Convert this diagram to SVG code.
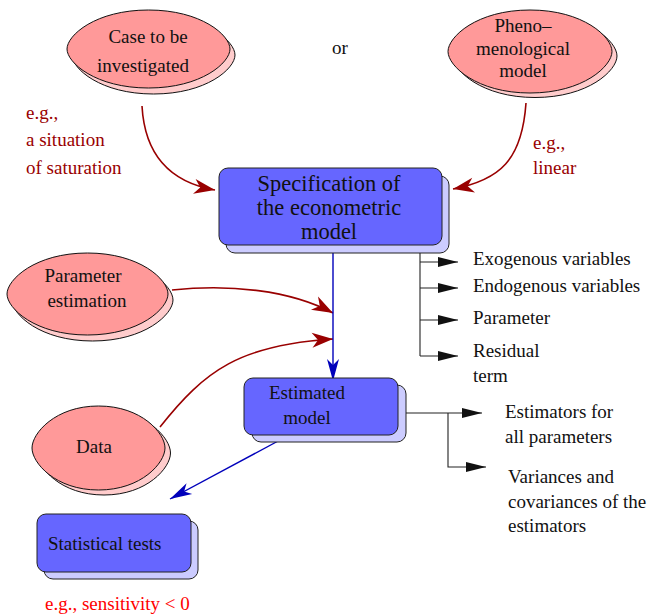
<svg xmlns="http://www.w3.org/2000/svg" xmlns:xlink="http://www.w3.org/1999/xlink" width="649" height="614" viewBox="0 0 649 614">
<style>
.t{font-size:19px;fill:#111}
.big{font-size:22.5px}
.mid{text-anchor:middle}
.dr{fill:#990000}
.rd{fill:#ff0000}
.ell{fill:#ff9999;stroke:#111;stroke-width:1}
.ells{fill:#ffcccc;stroke:#111;stroke-width:1}
.lemon{vector-effect:non-scaling-stroke}
.box{fill:#6666ff;stroke:#222;stroke-width:1}
.boxs{fill:#ccccff;stroke:#222;stroke-width:1}
.rl{fill:none;stroke:#990000;stroke-width:1.6}
.bl{fill:none;stroke:#0000bb;stroke-width:1.4}
.kl{fill:none;stroke:#222;stroke-width:1.1}
</style>
<defs>
<path id="lemon" class="lemon" d="M-1,0 C-1,-0.35 -0.65,-1 0,-1 C0.65,-1 1,-0.35 1,0 C1,0.35 0.65,1 0,1 C-0.65,1 -1,0.35 -1,0 Z"/>
<marker id="ar" viewBox="-22 -9 24 18" markerWidth="24" markerHeight="18" refX="0" refY="0" orient="auto" markerUnits="userSpaceOnUse"><path d="M0,0 L-21,-7.5 L-15,0 L-21,7.5 Z" fill="#990000"/></marker>
<marker id="ab" viewBox="-24 -8 26 16" markerWidth="26" markerHeight="16" refX="0" refY="0" orient="auto" markerUnits="userSpaceOnUse"><path d="M0,0 L-22,-6 L-16,0 L-22,6 Z" fill="#0000bb"/></marker>
<marker id="ak" viewBox="-22 -7 24 14" markerWidth="24" markerHeight="14" refX="0" refY="0" orient="auto" markerUnits="userSpaceOnUse"><path d="M0,0 L-20,-5 L-20,5 Z" fill="#111"/></marker>
</defs>
<rect width="649" height="614" fill="#fff"/>

<g id="connectors">
<path class="rl" d="M142,106 C145,160 175,183 215,190" marker-end="url(#ar)"/>
<path class="rl" d="M526,103 C522,160 500,180 453,189" marker-end="url(#ar)"/>
<path class="rl" d="M172,290 C230,284 290,290 333,313" marker-end="url(#ar)"/>
<path class="rl" d="M160,427 C205,370 240,345 333,339" marker-end="url(#ar)"/>
<path class="bl" d="M333,252 V381" marker-end="url(#ab)"/>
<path class="bl" d="M280,440 L170,499" marker-end="url(#ab)"/>
<path class="kl" d="M420,252 V356"/>
<path class="kl" d="M420,262 H458" marker-end="url(#ak)"/>
<path class="kl" d="M420,288 H458" marker-end="url(#ak)"/>
<path class="kl" d="M420,320 H458" marker-end="url(#ak)"/>
<path class="kl" d="M420,356 H458" marker-end="url(#ak)"/>
<path class="kl" d="M406,413 H482" marker-end="url(#ak)"/>
<path class="kl" d="M448,413 V467 H486" marker-end="url(#ak)"/>
</g>

<g font-family="Liberation Serif, Times New Roman, serif">
<g id="case">
<use href="#lemon" class="ells" transform="translate(153.5,55) scale(81.5,39)"/>
<use href="#lemon" class="ell" transform="translate(148.5,49) scale(81.5,39)"/>
<text class="t mid" x="148" y="43">Case to be</text>
<text class="t mid" x="143" y="72">investigated</text>
</g>

<g id="or"><text class="t mid" x="340" y="54">or</text></g>

<g id="pheno">
<use href="#lemon" class="ells" transform="translate(535,56) scale(82,41.5)"/>
<use href="#lemon" class="ell" transform="translate(530,51.5) scale(82,41.5)"/>
<text class="t mid" x="523" y="32">Pheno–</text>
<text class="t mid" x="523" y="55">menological</text>
<text class="t mid" x="523" y="77">model</text>
</g>

<g id="note-saturation">
<text class="t dr" x="26" y="119">e.g.,</text>
<text class="t dr" x="26" y="146">a situation</text>
<text class="t dr" x="26" y="174">of saturation</text>
</g>

<g id="note-linear">
<text class="t dr" x="533" y="149">e.g.,</text>
<text class="t dr" x="533" y="174">linear</text>
</g>

<g id="spec">
<rect class="boxs" x="226" y="176" width="223" height="77" rx="9"/>
<rect class="box" x="219" y="168" width="223" height="77" rx="9"/>
<text class="t mid big" x="329" y="191">Specification of</text>
<text class="t mid big" x="329" y="215">the econometric</text>
<text class="t mid big" x="329" y="239">model</text>
</g>

<g id="spec-items">
<text class="t" x="473" y="265">Exogenous variables</text>
<text class="t" x="473" y="292">Endogenous variables</text>
<text class="t" x="473" y="324">Parameter</text>
<text class="t" x="473" y="357">Residual</text>
<text class="t" x="473" y="382">term</text>
</g>

<g id="param">
<use href="#lemon" class="ells" transform="translate(92.5,300) scale(80.5,41)"/>
<use href="#lemon" class="ell" transform="translate(87.5,294) scale(80.5,41)"/>
<text class="t mid" x="83" y="282">Parameter</text>
<text class="t mid" x="87" y="307">estimation</text>
</g>

<g id="data">
<use href="#lemon" class="ells" transform="translate(104,453) scale(66.5,42)"/>
<use href="#lemon" class="ell" transform="translate(98.5,448) scale(66.5,42)"/>
<text class="t mid" x="94" y="453">Data</text>
</g>

<g id="estimated">
<rect class="boxs" x="252" y="385" width="154" height="57" rx="9"/>
<rect class="box" x="244" y="378" width="154" height="57" rx="9"/>
<text class="t mid" x="307" y="399">Estimated</text>
<text class="t mid" x="307" y="424">model</text>
</g>

<g id="est-items">
<text class="t" x="505" y="418">Estimators for</text>
<text class="t" x="505" y="443">all parameters</text>
<text class="t" x="508" y="483">Variances and</text>
<text class="t" x="508" y="508">covariances of the</text>
<text class="t" x="508" y="532">estimators</text>
</g>

<g id="tests">
<rect class="boxs" x="44" y="521" width="154" height="58" rx="9"/>
<rect class="box" x="37" y="514" width="154" height="58" rx="9"/>
<text class="t" x="48" y="550">Statistical tests</text>
</g>

<g id="note-sensitivity">
<text class="t rd" x="45" y="610">e.g., sensitivity &lt; 0</text>
</g>
</g>
</svg>
